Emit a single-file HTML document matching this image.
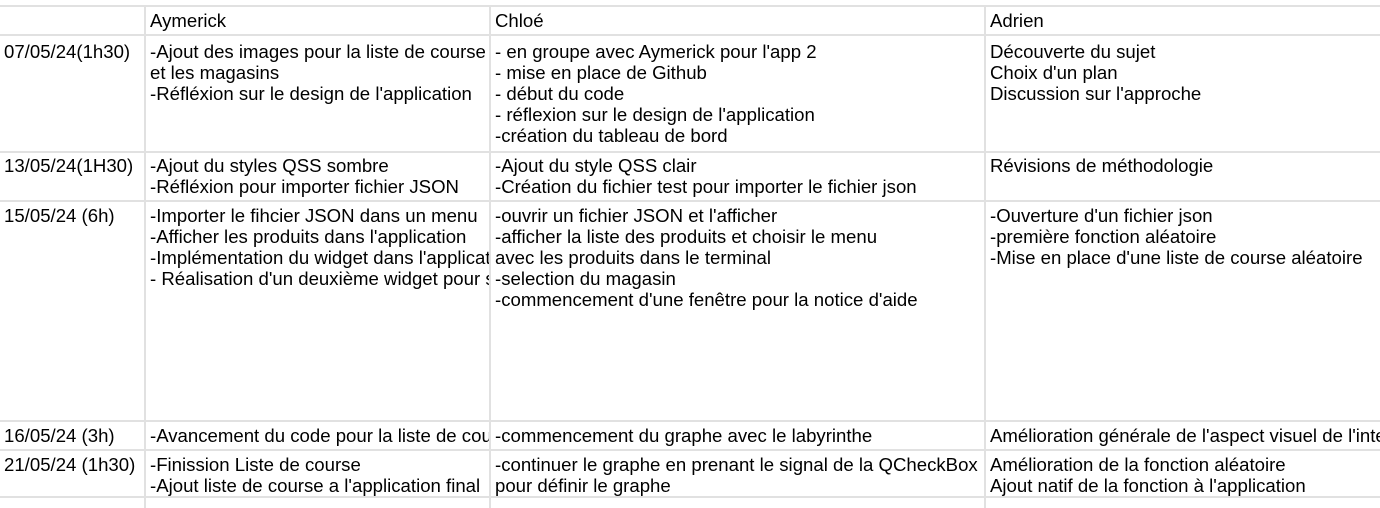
<!DOCTYPE html>
<html><head><meta charset="utf-8"><style>
html,body{margin:0;padding:0;background:#fff;}
body{width:1380px;height:508px;position:relative;overflow:hidden;font-family:"Liberation Sans",Arial,sans-serif;font-size:18.6px;color:#000;}
.h{position:absolute;left:0;width:1380px;height:2px;background:#e1e1e1;}
.v{position:absolute;top:5px;width:2px;background:#e1e1e1;}
.c{position:absolute;overflow:hidden;white-space:pre;line-height:21px;padding-left:4px;box-sizing:border-box;}
</style></head><body>
<div class="h" style="top:5px"></div>
<div class="h" style="top:34px"></div>
<div class="h" style="top:151px"></div>
<div class="h" style="top:200px"></div>
<div class="h" style="top:420px"></div>
<div class="h" style="top:449px"></div>
<div class="h" style="top:496px"></div>
<div class="v" style="left:144px;height:503px"></div>
<div class="v" style="left:489px;height:503px"></div>
<div class="v" style="left:984px;height:503px"></div>

<div class="c" style="left:146px;top:10px;width:343px">Aymerick</div>
<div class="c" style="left:491px;top:10px;width:493px">Chloé</div>
<div class="c" style="left:986px;top:10px;width:394px">Adrien</div>

<div class="c" style="left:0;top:41px;width:144px">07/05/24(1h30)</div>
<div class="c" style="left:146px;top:41px;width:343px">-Ajout des images pour la liste de course
et les magasins
-Réfléxion sur le design de l'application</div>
<div class="c" style="left:491px;top:41px;width:493px">- en groupe avec Aymerick pour l'app 2
- mise en place de Github
- début du code
- réflexion sur le design de l'application
-création du tableau de bord</div>
<div class="c" style="left:986px;top:41px;width:394px">Découverte du sujet
Choix d'un plan
Discussion sur l'approche</div>

<div class="c" style="left:0;top:155px;width:144px">13/05/24(1H30)</div>
<div class="c" style="left:146px;top:155px;width:343px">-Ajout du styles QSS sombre
-Réfléxion pour importer fichier JSON</div>
<div class="c" style="left:491px;top:155px;width:493px">-Ajout du style QSS clair
-Création du fichier test pour importer le fichier json</div>
<div class="c" style="left:986px;top:155px;width:394px">Révisions de méthodologie</div>

<div class="c" style="left:0;top:205px;width:144px">15/05/24 (6h)</div>
<div class="c" style="left:146px;top:205px;width:343px">-Importer le fihcier JSON dans un menu
-Afficher les produits dans l'application
-Implémentation du widget dans l'application
- Réalisation d'un deuxième widget pour sélection</div>
<div class="c" style="left:491px;top:205px;width:493px">-ouvrir un fichier JSON et l'afficher
-afficher la liste des produits et choisir le menu
avec les produits dans le terminal
-selection du magasin
-commencement d'une fenêtre pour la notice d'aide</div>
<div class="c" style="left:986px;top:205px;width:394px">-Ouverture d'un fichier json
-première fonction aléatoire
-Mise en place d'une liste de course aléatoire</div>

<div class="c" style="left:0;top:425px;width:144px">16/05/24 (3h)</div>
<div class="c" style="left:146px;top:425px;width:343px">-Avancement du code pour la liste de course</div>
<div class="c" style="left:491px;top:425px;width:493px">-commencement du graphe avec le labyrinthe</div>
<div class="c" style="left:986px;top:425px;width:394px">Amélioration générale de l'aspect visuel de l'interface</div>

<div class="c" style="left:0;top:454px;width:144px">21/05/24 (1h30)</div>
<div class="c" style="left:146px;top:454px;width:343px">-Finission Liste de course
-Ajout liste de course a l'application final</div>
<div class="c" style="left:491px;top:454px;width:493px">-continuer le graphe en prenant le signal de la QCheckBox
pour définir le graphe</div>
<div class="c" style="left:986px;top:454px;width:394px">Amélioration de la fonction aléatoire
Ajout natif de la fonction à l'application</div>
</body></html>
